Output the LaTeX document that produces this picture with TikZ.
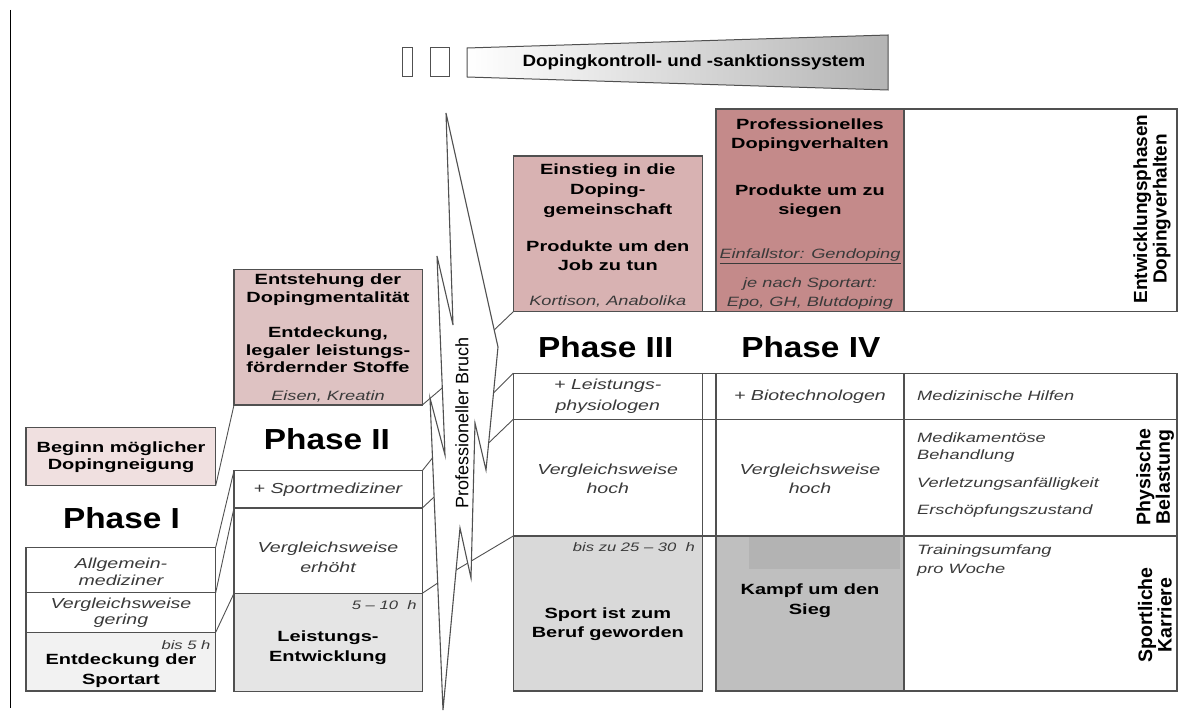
\documentclass[tikz,border=0pt]{standalone}
\usepackage{fontspec}
\setmainfont{Liberation Sans}[FakeStretch=1.35]
\newfontfamily\phasefont{Liberation Sans}[FakeStretch=1.15]
\newfontfamily\plainfont{Liberation Sans}
\usetikzlibrary{calc}
\definecolor{linecol}{HTML}{505050}
\definecolor{itcol}{HTML}{3A3A3A}
\definecolor{pinkA}{HTML}{F0E0E0}
\definecolor{pinkB}{HTML}{DEC2C2}
\definecolor{pinkC}{HTML}{D8B2B2}
\definecolor{pinkD}{HTML}{C48A8A}
\definecolor{grayA}{HTML}{F2F2F2}
\definecolor{grayB}{HTML}{E5E5E5}
\definecolor{grayC}{HTML}{D9D9D9}
\definecolor{grayD}{HTML}{BFBFBF}
\definecolor{grayE}{HTML}{B3B3B3}
\definecolor{bannergray}{HTML}{B4B4B4}
\tikzset{
  cellsty/.style={draw=linecol, line width=1.2pt, inner sep=0pt, outer sep=0pt, rectangle},
  cellline/.style={draw=linecol, line width=1.2pt},
  conn/.style={draw=linecol, line width=0.9pt},
  boltsty/.style={draw=linecol, line width=1.1pt, fill=white},
  bt/.style={font=\bfseries\fontsize{14.8}{17.5}\selectfont, align=center, inner sep=0pt, text=black},
  itx/.style={font=\itshape\fontsize{14.5}{18}\selectfont, align=center, inner sep=0pt, text=itcol},
  its/.style={font=\itshape\fontsize{13.5}{17}\selectfont, align=center, inner sep=0pt, text=itcol},
  itl/.style={font=\itshape\fontsize{13.5}{17}\selectfont, align=left, anchor=west, inner sep=0pt, text=itcol},
  smallit/.style={font=\itshape\fontsize{12.3}{14}\selectfont, inner sep=0pt, text=itcol, anchor=east},
  phaselab/.style={font=\phasefont\bfseries\fontsize{29}{32}\selectfont, inner sep=0pt},
  bannertxt/.style={font=\phasefont\bfseries\fontsize{16.3}{18}\selectfont, inner sep=0pt},
  vlab/.style={font=\plainfont\bfseries\fontsize{19.5}{19.5}\selectfont, rotate=90, align=center, inner sep=0pt},
}
\newcommand{\mkcell}[6]{\node[cellsty,#6,minimum width={#4pt-#2pt},minimum height={#5pt-#3pt},anchor=north west] (#1) at (#2,#3) {};}
\begin{document}
\begin{tikzpicture}[x=1pt,y=-1pt]
\useasboundingbox (0,0) rectangle (1179,722);

% left rule
\draw[black, line width=1.3pt] (10.7,10) -- (10.7,708);

% banner
\draw[cellline, line width=1pt] (402.7,48) rectangle (412.7,77);
\draw[cellline, line width=1pt] (430.7,48) rectangle (449.3,77);
\shade[draw=linecol, line width=1pt, left color=white, right color=bannergray] (467,48) -- (888,35) -- (888,90) -- (467,77) -- cycle;
\node[bannertxt] (banner) at (694,62) {Dopingkontroll- und -sanktionssystem};

% bolt coordinates
\coordinate (T) at (446,113);
\coordinate (R) at (498,347);
\coordinate (N5) at (486,470);
\coordinate (S4) at (475,423);
\coordinate (N4) at (471,578);
\coordinate (S3) at (460,528);
\coordinate (B) at (443,710);
\coordinate (S2) at (430,398);
\coordinate (N2) at (445,455);
\coordinate (S1) at (437,256);
\coordinate (N1) at (453,325);
\coordinate (k1) at ($(S1)!0.663!(N2)$);
\coordinate (k2) at ($(S2)!0.192!(B)$);
\coordinate (k3) at ($(S2)!0.317!(B)$);
\coordinate (k4) at ($(S2)!0.593!(B)$);
\coordinate (k5) at ($(T)!0.927!(R)$);
\coordinate (k6) at ($(R)!0.374!(N5)$);
\coordinate (k7) at ($(R)!0.78!(N5)$);
\coordinate (k8) at ($(S3)!0.231!(B)$);

% Phase I cells
\mkcell{b1p}{26}{427.7}{215.7}{485.7}{fill=pinkA}
\mkcell{b1a}{26}{547.3}{215.7}{592.7}{fill=white}
\mkcell{b1v}{26}{592.7}{215.7}{632.3}{fill=white}
\mkcell{b1e}{26}{632.3}{215.7}{691}{fill=grayA}

% Phase II cells
\mkcell{b2p}{234}{269.3}{422.3}{405}{fill=pinkB}
\mkcell{b2a}{234}{470.7}{422.3}{508}{fill=white}
\mkcell{b2v}{234}{508}{422.3}{593.3}{fill=white}
\mkcell{b2e}{234}{593.3}{422.3}{691.7}{fill=grayB}

% Phase III / IV upper boxes
\mkcell{b3p}{513.3}{156}{702.3}{311.7}{fill=pinkC}
\mkcell{b4p}{716}{109}{904}{311.7}{fill=pinkD}
\mkcell{brt}{904}{109}{1177}{311.7}{fill=white}
\draw[cellline] (b3p.south west) -- (brt.south east);

% Phase III / IV lower cells
\mkcell{c3a}{513.3}{373.3}{702.3}{419.3}{fill=white}
\mkcell{c3v}{513.3}{419.3}{702.3}{536}{fill=white}
\mkcell{c3e}{513.3}{536}{702.3}{691}{fill=grayC}
\mkcell{g1a}{702.3}{373.3}{716}{419.3}{fill=white}
\mkcell{g1v}{702.3}{419.3}{716}{536}{fill=white}
\mkcell{c4a}{716}{373.3}{904}{419.3}{fill=white}
\mkcell{c4v}{716}{419.3}{904}{536}{fill=white}
\mkcell{c4e}{716}{536}{904}{691}{fill=grayD}
\fill[grayE] (749.3,537) rectangle (900,569.3);
\mkcell{cra}{904}{373.3}{1177}{419.3}{fill=white}
\mkcell{crv}{904}{419.3}{1177}{536}{fill=white}
\mkcell{cre}{904}{536}{1177}{691}{fill=white}

% connectors
\draw[conn] (b1p.south east) -- (b2p.south west);
\draw[conn] (b1a.north east) -- (b2a.north west);
\draw[conn] (b1v.north east) -- (b2v.north west);
\draw[conn] (b1e.north east) -- (b2e.north west);
\draw[conn] (b2p.south east) -- (k1);
\draw[conn] (b2a.north east) -- (k2);
\draw[conn] (b2v.north east) -- (k3);
\draw[conn] (b2e.north east) -- (k4);
\draw[conn] (k5) -- (b3p.south west);
\draw[conn] (k6) -- (c3a.north west);
\draw[conn] (k7) -- (c3v.north west);
\draw[conn] (k8) -- (c3e.north west);

% bolt
\draw[boltsty] (T) -- (R) -- (N5) -- (S4) -- (N4) -- (S3) -- (B) -- (S2) -- (N2) -- (S1) -- (N1) -- cycle;
\node[font=\plainfont\fontsize{18}{20}\selectfont, rotate=90, inner sep=0pt] (bruch) at (462,422.5) {Professioneller Bruch};

% Phase I texts
\node[bt, font=\bfseries\fontsize{14.8}{16.7}\selectfont] (t1p) at (121,457.5) {Beginn möglicher\\Dopingneigung};
\node[phaselab] (ph1) at (121.5,518) {Phase I};
\node[itx, font=\itshape\fontsize{14.5}{16.7}\selectfont] (t1a) at (121,572) {Allgemein-\\mediziner};
\node[itx, font=\itshape\fontsize{14.5}{16}\selectfont] (t1v) at (121,613) {Vergleichsweise\\gering};
\node[smallit] (t1h) at (210.7,645) {bis 5 h};
\node[bt, font=\bfseries\fontsize{14.8}{20}\selectfont] (t1e) at (121,671) {Entdeckung der\\Sportart};

% Phase II texts
\node[bt] (t2p1) at (328,289.7) {Entstehung der\\Dopingmentalität};
\node[bt, font=\bfseries\fontsize{14.8}{17.2}\selectfont] (t2p2) at (328,349.8) {Entdeckung,\\legaler leistungs-\\fördernder Stoffe};
\node[its] (t2p3) at (328,396.5) {Eisen, Kreatin};
\node[phaselab] (ph2) at (327,439) {Phase II};
\node[itx] (t2a) at (328,489.5) {+ Sportmediziner};
\node[itx, font=\itshape\fontsize{14.5}{20}\selectfont] (t2v) at (328,557) {Vergleichsweise\\erhöht};
\node[smallit] (t2h) at (416.7,605) {5 – 10\ \ h};
\node[bt, font=\bfseries\fontsize{14.8}{20}\selectfont] (t2e) at (328,648) {Leistungs-\\Entwicklung};

% Phase III texts
\node[bt, font=\bfseries\fontsize{14.8}{20}\selectfont] (t3p1) at (607.8,191) {Einstieg in die\\Doping-\\gemeinschaft};
\node[bt, font=\bfseries\fontsize{14.8}{18.6}\selectfont] (t3p2) at (607.8,255.5) {Produkte um den\\Job zu tun};
\node[its] (t3p3) at (607.8,301.7) {Kortison, Anabolika};
\node[phaselab] (ph3) at (605.8,346.7) {Phase III};
\node[itx, font=\itshape\fontsize{14.5}{21}\selectfont] (t3a) at (607.8,396.5) {+ Leistungs-\\physiologen};
\node[itx, font=\itshape\fontsize{14.5}{19.3}\selectfont] (t3v) at (607.8,479) {Vergleichsweise\\hoch};
\node[smallit] (t3h) at (695,547.3) {bis zu 25 – 30\ \ h};
\node[bt, font=\bfseries\fontsize{14.8}{19.4}\selectfont] (t3e) at (607.8,624) {Sport ist zum\\Beruf geworden};

% Phase IV texts
\node[bt, font=\bfseries\fontsize{14.8}{19.3}\selectfont] (t4p1) at (810,135.2) {Professionelles\\Dopingverhalten};
\node[bt, font=\bfseries\fontsize{14.8}{19.3}\selectfont] (t4p2) at (810,201.5) {Produkte um zu\\siegen};
\node[its] (t4p3) at (810,256.5) {\underline{Einfallstor: Gendoping}};
\node[its, font=\itshape\fontsize{13.5}{18.4}\selectfont] (t4p4) at (810,293.5) {je nach Sportart:\\Epo, GH, Blutdoping};
\node[phaselab] (ph4) at (810.8,346.7) {Phase IV};
\node[itx] (t4a) at (810,396.5) {+ Biotechnologen};
\node[itx, font=\itshape\fontsize{14.5}{19.3}\selectfont] (t4v) at (810,479) {Vergleichsweise\\hoch};
\node[bt, font=\bfseries\fontsize{14.8}{20}\selectfont] (t4e) at (810,600.5) {Kampf um den\\Sieg};

% right column texts
\node[itl] (r1) at (917,396) {Medizinische Hilfen};
\node[itl] (r2) at (917,448) {Medikamentöse\\Behandlung};
\node[itl] (r3) at (917,484.5) {Verletzungsanfälligkeit};
\node[itl] (r4) at (917,511.5) {Erschöpfungszustand};
\node[itl, font=\itshape\fontsize{13.5}{19}\selectfont] (r5) at (917,560.5) {Trainingsumfang\\pro Woche};
\node[vlab, font=\plainfont\bfseries\fontsize{19}{19.5}\selectfont] (v1) at (1152,209) {Entwicklungsphasen\\Dopingverhalten};
\node[vlab] (v2) at (1155,477) {Physische\\Belastung};
\node[vlab] (v3) at (1155,615) {Sportliche\\Karriere};
\end{tikzpicture}
\end{document}
